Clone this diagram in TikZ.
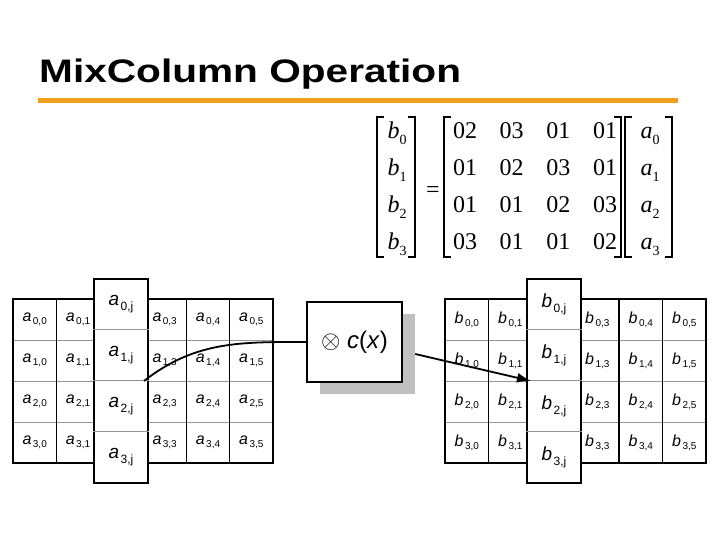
\documentclass[tikz,border=0pt]{standalone}
\usepackage{fontspec}
\usepackage{graphicx}
\setmainfont{Liberation Sans}
\newfontfamily\eqfont{Liberation Serif}
\usetikzlibrary{arrows.meta,positioning,calc}
\definecolor{titlerule}{RGB}{242,160,28}
\definecolor{shade}{RGB}{192,192,192}
\definecolor{thinrule}{RGB}{150,150,150}
\newcommand{\ent}[2]{{\itshape #1}\hspace{1.5pt}\raisebox{-0.2em}{\fontsize{10}{10}\selectfont #2}}
\newcommand{\colent}[2]{{\itshape #1}\hspace{1.5pt}\raisebox{-0.25em}{\fontsize{12}{12}\selectfont #2}}
\newcommand{\eqv}[2]{{\itshape #1}\raisebox{-0.25em}{\fontsize{14}{14}\selectfont #2}}
\tikzset{
 cell/.style={font=\fontsize{16}{16}\selectfont,inner sep=0pt},
 colcell/.style={font=\fontsize{19}{19}\selectfont,inner sep=0pt},
 colbox/.style={draw,line width=2pt,fill=white,minimum width=54pt,
             minimum height=204pt,inner sep=0pt},
 frame/.style={line width=2.2pt},
 colrule/.style={line width=1.4pt},
 rowrule/.style={thinrule,line width=0.8pt},
 opbox/.style={draw,line width=1.6pt,fill=white,minimum width=95pt,
             minimum height=80pt,font=\fontsize{24}{24}\selectfont},
 shadowbox/.style={fill=shade,minimum width=95pt,minimum height=80pt},
 eqtxt/.style={font=\eqfont\fontsize{24}{24}\selectfont,inner sep=0pt},
 brk/.style={line width=1.4pt},
 link/.style={line width=1.8pt},
 arrow/.style={-{Latex[length=14pt,width=10pt]},line width=1.8pt}
}

\begin{document}
\begin{tikzpicture}[x=1pt,y=1pt]
\useasboundingbox (0,0) rectangle (720,540);

% title
\node[anchor=base west,inner sep=0pt] (title) at (39,457)
  {\scalebox{1.31}[1.05]{\fontsize{31}{31}\selectfont\bfseries MixColumn Operation}};
\fill[titlerule] (38,442) rectangle (678,437);

% b = M a
\foreach \r in {0,...,3}{
  \node[eqtxt,anchor=base] (b\r) at (397,{401-37*\r}) {\eqv{b}{\r}};
  \node[eqtxt,anchor=base] (a\r) at (650,{401-37*\r}) {\eqv{a}{\r}};
}
\foreach \row [count=\r from 0] in {{02,03,01,01},{01,02,03,01},{01,01,02,03},{03,01,01,02}}{
  \foreach \v [count=\c from 0] in \row
    \node[eqtxt,anchor=base] (m\r\c) at ({465+46.7*\c},{401-37*\r}) {\v};
}
\node[eqtxt] (eq) at (433,348) {=};
\draw[brk] (384,423) -- (377,423) -- (377,283) -- (384,283);
\draw[brk] (408,423) -- (415,423) -- (415,283) -- (408,283);
\draw[brk] (451,423) -- (444,423) -- (444,283) -- (451,283);
\draw[brk] (614,423) -- (621,423) -- (621,283) -- (614,283);
\draw[brk] (632,423) -- (625,423) -- (625,283) -- (632,283);
\draw[brk] (665,423) -- (672,423) -- (672,283) -- (665,283);

% state a
\foreach \r in {1,2,3} \draw[rowrule] (13,{241-41*\r}) -- (273,{241-41*\r});
\foreach \c in {1,...,5} \draw[colrule] ({13+43.33*\c},241) -- ({13+43.33*\c},77);
\draw[frame] (13,241) rectangle (273,77);
\foreach \r in {0,...,3}{
  \foreach \c in {0,1,3,4,5}
    \node[cell] (a\r\c) at ({13+43.33*(\c+0.5)},{220.5-41*\r}) {\ent{a}{\r,\c}};
}
\node[colbox] (colA) at (121,159) {};
\foreach \r in {1,2,3}
  \draw[rowrule] ([yshift=-51*\r pt]colA.north west) -- ([yshift=-51*\r pt]colA.north east);
\foreach \r in {0,...,3}
  \node[colcell] (aj\r) at (121,{235.5-51*\r}) {\colent{a}{\r,j}};

% state b
\foreach \r in {1,2,3} \draw[rowrule] (445,{241-41*\r}) -- (706,{241-41*\r});
\foreach \c in {1,...,5} \draw[colrule] ({445+43.5*\c},241) -- ({445+43.5*\c},77);
\draw[frame] (445,241) rectangle (706,77);
\foreach \r in {0,...,3}{
  \foreach \c in {0,1,3,4,5}
    \node[cell] (b\r\c) at ({445+43.5*(\c+0.5)},{220.5-41*\r}) {\ent{b}{\r,\c}};
}
\node[colbox] (colB) at (554,159) {};
\foreach \r in {1,2,3}
  \draw[rowrule] ([yshift=-51*\r pt]colB.north west) -- ([yshift=-51*\r pt]colB.north east);
\foreach \r in {0,...,3}
  \node[colcell] (bj\r) at (554,{235.5-51*\r}) {\colent{b}{\r,j}};

% c(x) box
\node[shadowbox] (cxshadow) at (367.5,186) {};
\node[opbox] (cx) at ([xshift=-13pt,yshift=12pt]cxshadow.center) {$\otimes$ \textit{c}(\textit{x})};

\draw[link] ([xshift=-5pt]colA.east) to[out=38,in=180] (cx.west);
\draw[arrow] (cxshadow.east) -- ([xshift=5pt]colB.west);
\end{tikzpicture}
\end{document}
